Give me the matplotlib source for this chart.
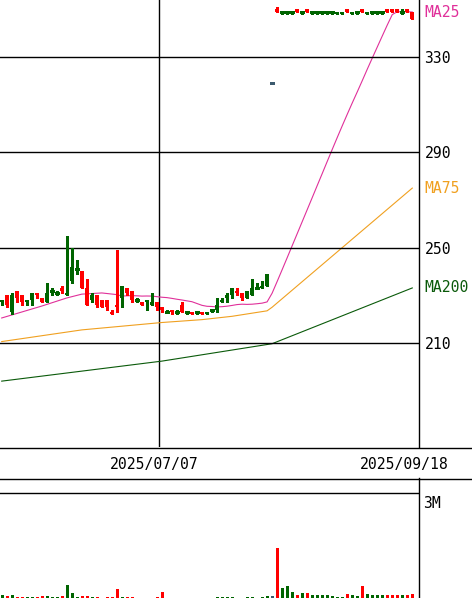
import numpy as np
import pandas as pd
import matplotlib
matplotlib.use("Agg")
import matplotlib.pyplot as plt
from matplotlib.lines import Line2D
from matplotlib.transforms import blended_transform_factory, offset_copy

# ---- trading calendar (TSE holidays removed) ----
holidays = ["2025-07-21", "2025-08-11", "2025-09-15"]
dates = [d for d in pd.bdate_range("2025-05-22", "2025-09-18")
         if d.strftime("%Y-%m-%d") not in holidays]
date_labels = ["2025/07/07", "2025/09/18"]

# ---- daily prices (yen) ----
opens = [227, 230, 223, 232, 230, 227, 228, 231, 229, 227,
         232, 231, 233, 230, 236, 241, 240, 233, 228, 230,
         228, 228, 223, 226, 229, 233, 232, 228, 227, 227,
         226, 227, 225, 223, 224, 223, 226, 223, 223, 223,
         223, 222, 224, 224, 227, 229, 230, 232, 231, 229,
         230, 233, 233, 234, 319, 350, 349, 349, 349, 350,
         349, 350, 349, 349, 349, 349, 349, 348, 348, 350,
         348, 349, 350, 348, 349, 349, 349, 350, 350, 350,
         349, 350, 349]
highs = [228, 230, 231, 232, 230, 228, 231, 231, 229, 235,
         233, 232, 234, 255, 250, 245, 240, 237, 231, 230,
         228, 228, 224, 249, 234, 233, 232, 229, 227, 228,
         231, 227, 225, 224, 224, 224, 227, 223, 223, 223,
         223, 223, 224, 229, 229, 231, 233, 233, 231, 232,
         237, 235, 236, 239, 319, 351, 349, 349, 349, 350,
         349, 350, 349, 349, 349, 349, 349, 349, 349, 350,
         349, 349, 350, 349, 349, 349, 349, 350, 350, 350,
         350, 350, 349]
lows = [226, 225, 222, 227, 226, 226, 226, 229, 227, 227,
        230, 230, 231, 230, 235, 239, 233, 226, 227, 225,
        225, 224, 222, 223, 225, 230, 227, 227, 226, 224,
        226, 224, 223, 223, 222, 222, 223, 222, 222, 222,
        222, 222, 223, 223, 227, 227, 229, 230, 228, 229,
        230, 233, 233, 234, 319, 349, 348, 348, 348, 349,
        348, 349, 348, 348, 348, 348, 348, 348, 348, 349,
        348, 348, 349, 348, 348, 348, 348, 349, 349, 349,
        348, 349, 346]
closes = [228, 226, 230, 229, 227, 228, 231, 230, 227, 231,
          232, 231, 232, 231, 242, 241, 233, 226, 230, 226,
          225, 225, 222, 225, 234, 231, 228, 228, 226, 228,
          227, 225, 224, 223, 223, 223, 223, 223, 222, 223,
          222, 223, 224, 226, 228, 230, 233, 231, 229, 232,
          233, 233, 234, 239, 319, 349, 349, 349, 349, 349,
          349, 349, 349, 349, 349, 349, 349, 349, 349, 349,
          349, 349, 349, 349, 349, 349, 349, 349, 349, 349,
          349, 349, 346]

# ---- volume (million shares) ----
volume = [0.09, 0.06, 0.09, 0.02, 0.02, 0.02, 0.02, 0.02, 0.06, 0.06,
          0.02, 0.02, 0.05, 0.37, 0.14, 0.03, 0.06, 0.06, 0.02, 0.02,
          0.01, 0.02, 0.02, 0.26, 0.03, 0.02, 0.02, 0.01, 0.01, 0.01,
          0.01, 0.02, 0.17, 0.01, 0.01, 0.01, 0.01, 0.01, 0.01, 0.01,
          0.01, 0.01, 0.01, 0.02, 0.02, 0.02, 0.02, 0.01, 0.01, 0.02,
          0.02, 0.01, 0.02, 0.07, 0.06, 1.43, 0.29, 0.34, 0.18, 0.10,
          0.14, 0.15, 0.09, 0.09, 0.10, 0.09, 0.07, 0.04, 0.04, 0.12,
          0.10, 0.05, 0.34, 0.12, 0.09, 0.09, 0.10, 0.10, 0.10, 0.10,
          0.08, 0.10, 0.12]

# ---- moving averages ----
ma25_head_idx = [0, 8, 13, 16, 20, 23]
ma25_head_val = [220.5, 225.5, 228.9, 230.5, 231.0, 230.3]
ma75_idx = [0, 16, 32, 40, 46, 53, 54, 82]
ma75_val = [210.6, 215.5, 218.6, 219.8, 221.2, 223.5, 225.0, 275.0]
ma200_idx = [0, 32, 54, 82]
ma200_val = [194.0, 202.4, 209.7, 233.1]

price_ticks = [210, 250, 290, 330]
vol_tick = 3.0

# ---- styling ----
UP = "#006400"
DOWN = "#ff0000"
FLAT = "#3c5a6e"
C_MA25 = "#e0309a"
C_MA75 = "#f0a020"
C_MA200 = "#0a5a0a"
FONT = "DejaVu Sans Mono"
FS = 10.6

W, H = 472, 598
fig = plt.figure(figsize=(W / 100, H / 100), dpi=100)
ax = fig.add_axes([0, (H - 447) / H, 419 / W, 447 / H])
axv = fig.add_axes([0, 0, 419 / W, 120 / H])

n = len(closes)
x = np.arange(n)
o = np.array(opens, float)
h = np.array(highs, float)
l = np.array(lows, float)
c = np.array(closes, float)
v = np.array(volume, float)

up = c > o
down = c < o
flat_range = (h == l)
doji = (c == o) & ~flat_range

cols = np.where(down, DOWN, UP).astype(object)
cols[flat_range] = FLAT

# moving averages
ma25_tail = pd.Series(c).rolling(25).mean().to_numpy()[24:]
ma25_x = list(ma25_head_idx) + list(range(24, n))
ma25_y = list(ma25_head_val) + list(ma25_tail)

ax.plot(ma200_idx, ma200_val, color=C_MA200, lw=0.8, zorder=2)
ax.plot(ma75_idx, ma75_val, color=C_MA75, lw=0.8, zorder=2)
ax.plot(ma25_x, ma25_y, color=C_MA25, lw=0.8, zorder=2)

# candlesticks
bw = 0.8
ax.vlines(x[~flat_range], l[~flat_range], h[~flat_range],
          colors=list(cols[~flat_range]), lw=1, zorder=3, antialiased=False)
body_lo = np.minimum(o, c)
body_h = np.abs(c - o)
m = up | down
ax.bar(x[m], body_h[m], bottom=body_lo[m], width=bw,
       color=list(cols[m]), linewidth=0, zorder=4, antialiased=False)
dm = doji | flat_range
ax.hlines(c[dm], x[dm] - bw / 2, x[dm] + bw / 2, colors=list(cols[dm]),
          lw=1, zorder=4, antialiased=False)

# volume
axv.vlines(x, 0, v, colors=list(cols), lw=1, antialiased=False)

# axes ranges
xl = (-0.34, n + 0.34)
top_p = 330 + 57 / (95.333 / 40)
bot_p = 210 - 104 / (95.333 / 40)
ax.set_xlim(*xl)
ax.set_ylim(bot_p, top_p)
axv.set_xlim(*xl)
axv.set_ylim(0, vol_tick * 120 / 105)

for a in (ax, axv):
    for s in ("top", "left", "bottom"):
        a.spines[s].set_visible(False)
    a.spines["right"].set_color("black")
    a.spines["right"].set_linewidth(1)
    a.set_xticks([])
    a.patch.set_alpha(0)

ax.set_yticks(price_ticks)
ax.set_yticklabels([str(t) for t in price_ticks], fontfamily=FONT, fontsize=FS)
ax.yaxis.tick_right()
ax.tick_params(axis="y", length=0, pad=4)
ax.grid(axis="y", color="black", lw=1)
ax.set_axisbelow(False)

axv.set_yticks([vol_tick])
axv.set_yticklabels([])
axv.tick_params(axis="y", length=0)
axv.grid(axis="y", color="black", lw=1)
axv.text(1.0, vol_tick, "3M", transform=offset_copy(
    blended_transform_factory(axv.transAxes, axv.transData), fig=fig, x=4, y=-3, units="dots"),
    ha="left", va="top", fontfamily=FONT, fontsize=FS)

# date marker line and labels
idx = [i for i, d in enumerate(dates) if d.strftime("%Y/%m/%d") in date_labels]
ax.axvline(idx[0] - 0.5, color="black", lw=1, zorder=1)
ylab = (H - 464) / H
tr = blended_transform_factory(ax.transData, fig.transFigure)
fig.text(idx[0] - 0.5, ylab, date_labels[0], transform=offset_copy(tr, fig=fig, x=-5, y=0, units="dots"),
         ha="center", va="center", fontfamily=FONT, fontsize=FS)
fig.text(idx[1], ylab, date_labels[1], transform=offset_copy(tr, fig=fig, x=-8, y=0, units="dots"),
         ha="center", va="center", fontfamily=FONT, fontsize=FS)

# MA labels at the last value of each average
lab_tr = offset_copy(blended_transform_factory(ax.transAxes, ax.transData), fig=fig, x=5, y=0, units="dots")
for name, val, col in (("MA25", ma25_y[-1], C_MA25), ("MA75", ma75_val[-1], C_MA75),
                       ("MA200", ma200_val[-1], C_MA200)):
    ax.text(1.0, val, name, transform=lab_tr, ha="left", va="center",
            color=col, fontfamily=FONT, fontsize=FS, clip_on=False)

# panel separators
fig.add_artist(Line2D([0, 1], [(H - 447.5) / H] * 2, color="black", lw=1, transform=fig.transFigure))
fig.add_artist(Line2D([0, 1], [(H - 478.5) / H] * 2, color="black", lw=1, transform=fig.transFigure))

fig.savefig("out.png", dpi=100, facecolor="white")
